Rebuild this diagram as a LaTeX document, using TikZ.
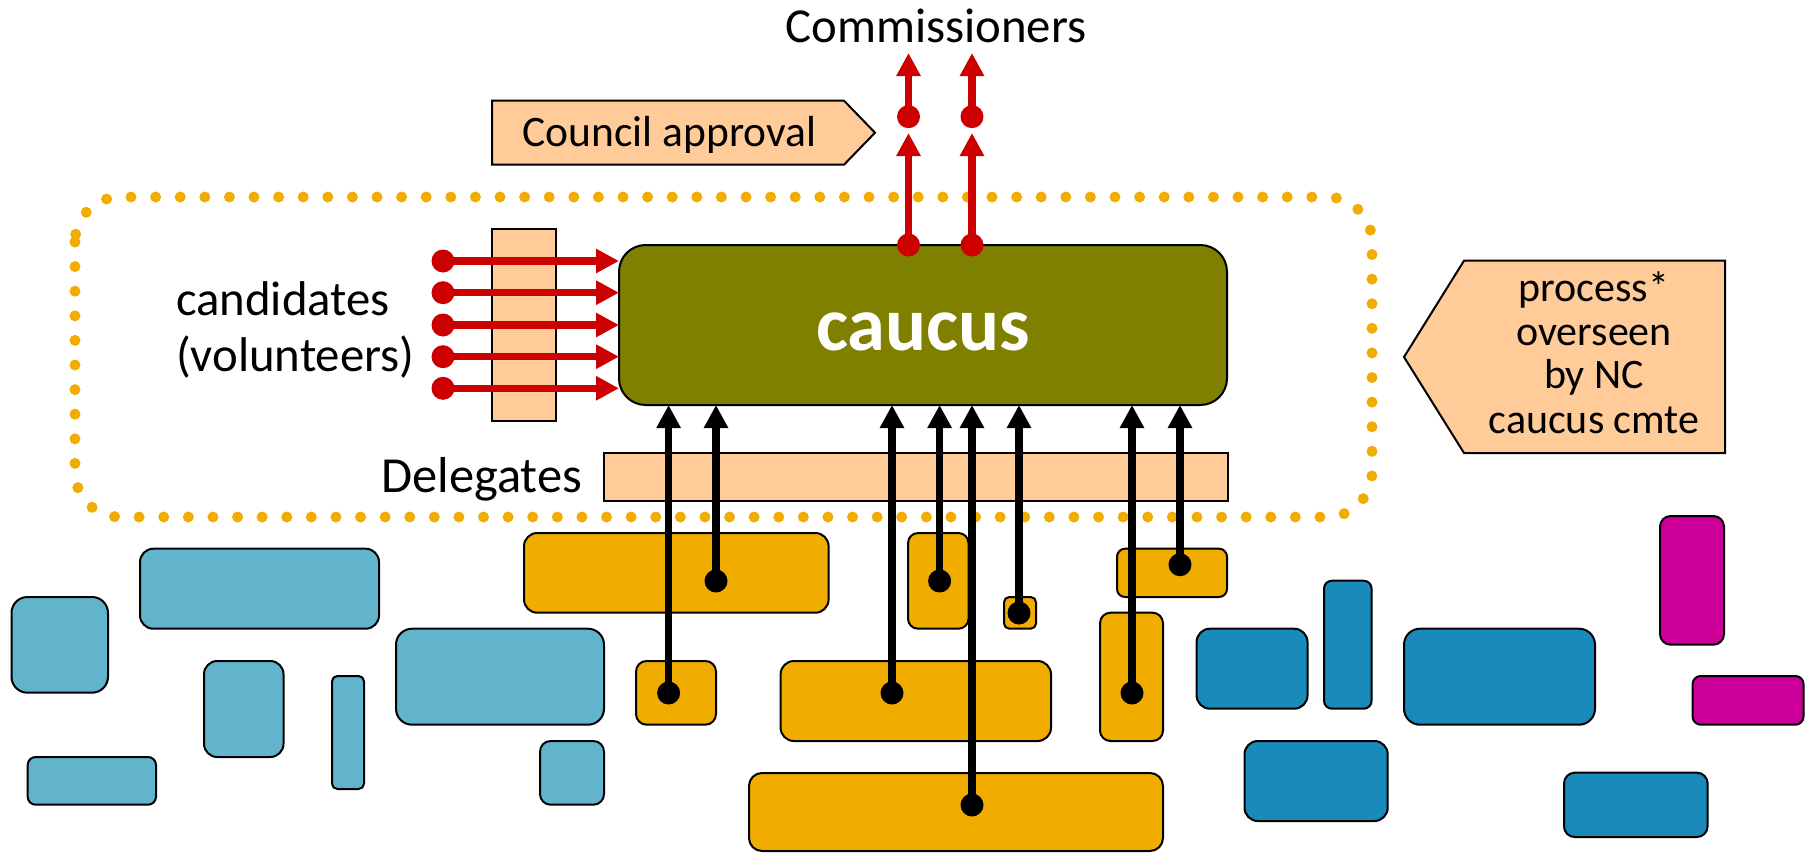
\documentclass[tikz,border=0pt]{standalone}
\usepackage{fontspec}
\setmainfont{Carlito}
\usetikzlibrary{arrows.meta}
\definecolor{peach}{HTML}{FFCC99}
\definecolor{gold}{HTML}{F0AD00}
\definecolor{olivec}{HTML}{808000}
\definecolor{lblue}{HTML}{62B4CC}
\definecolor{dblue}{HTML}{1A8ABA}
\definecolor{magc}{HTML}{CC0099}
\definecolor{redc}{HTML}{CC0000}
\newcommand\rbox[6]{%
 \pgfmathsetmacro\rbW{#5-#3}%
 \pgfmathsetmacro\rbH{#6-#4}%
 \pgfmathsetmacro\rbR{0.1667*min(\rbW,\rbH)}%
 \node[#2, anchor=north west, minimum width=\rbW pt, minimum height=\rbH pt, rounded corners=\rbR pt] (#1) at (#3,#4) {};}
\newcommand\prect[5]{%
 \pgfmathsetmacro\rbW{#4-#2}%
 \pgfmathsetmacro\rbH{#5-#3}%
 \node[peachbox, anchor=north west, minimum width=\rbW pt, minimum height=\rbH pt] (#1) at (#2,#3) {};}
\begin{document}
\begin{tikzpicture}[x=1pt,y=-1pt,
  box/.style={draw=black, line width=2pt, inner sep=0pt, outer sep=0pt},
  goldbox/.style={box, fill=gold},
  lbluebox/.style={box, fill=lblue},
  dbluebox/.style={box, fill=dblue},
  magbox/.style={box, fill=magc},
  olivebox/.style={box, fill=olivec},
  peachbox/.style={box, fill=peach},
  txt/.style={inner sep=0pt, outer sep=0pt},
  redarr/.style={draw=redc, line width=7.5pt, -{Triangle[length=23pt,width=23pt]}},
  blkarr/.style={draw=black, line width=7.5pt, -{Triangle[length=23pt,width=23pt]}},
  dotline/.style={draw=gold, line width=11pt, line cap=round, dash pattern=on 0pt off 24.6pt, rounded corners=45pt}
]
\useasboundingbox (0,0) rectangle (1810,854);

% dotted boundary
\draw[dotline] (75,197) rectangle (1372,517);

% light blue boxes
\rbox{B1}{lbluebox}{11.5}{597}{108}{692.7}
\rbox{B2}{lbluebox}{140}{548.7}{379}{628.7}
\rbox{B3}{lbluebox}{204}{661}{283.5}{757}
\rbox{B4}{lbluebox}{332}{676}{364}{789}
\rbox{B5}{lbluebox}{396}{628.7}{604}{724.7}
\rbox{B6}{lbluebox}{27.7}{757}{156}{804.7}
\rbox{B7}{lbluebox}{540}{741}{604}{804.7}
% dark blue boxes
\rbox{D1}{dbluebox}{1196.6}{628.7}{1307.5}{708.7}
\rbox{D2}{dbluebox}{1324}{580.7}{1371.6}{708.7}
\rbox{D3}{dbluebox}{1404}{628.7}{1595}{724.7}
\rbox{D4}{dbluebox}{1244.5}{741}{1387.7}{821}
\rbox{D5}{dbluebox}{1564}{772.7}{1707.6}{837}
% magenta boxes
\rbox{M1}{magbox}{1660}{516}{1724}{644.7}
\rbox{M2}{magbox}{1692.6}{676}{1803.5}{724.7}
% gold boxes
\rbox{G1}{goldbox}{524}{533}{828.6}{612.7}
\rbox{G2}{goldbox}{636}{661}{716}{724.7}
\rbox{G3}{goldbox}{780.6}{661}{1051}{741}
\rbox{G4}{goldbox}{749}{773}{1163}{851}
\rbox{G5}{goldbox}{908}{533}{968.5}{628.7}
\rbox{G6}{goldbox}{1004}{597}{1036}{628.7}
\rbox{G7}{goldbox}{1117}{548.7}{1227}{597}
\rbox{G8}{goldbox}{1100}{612.7}{1163}{741}

% peach rectangles
\prect{candbar}{492}{228.7}{556}{420.7}
\prect{delbar}{604}{453}{1228}{501}

% caucus
\rbox{caucus}{olivebox}{619}{245}{1227}{405}
\node[txt, anchor=base, text=white, font=\fontsize{76.5}{90}\selectfont\bfseries] (caucuslbl) at (923,350) {caucus};

% council approval
\draw[box, fill=peach] (492,100.7) -- (844,100.7) -- (875,132.7) -- (844,164.7) -- (492,164.7) -- cycle;
\node[txt, anchor=base west, font=\fontsize{43.5}{52}\selectfont] (council) at (522.6,146.7) {Council approval};

% process box
\draw[box, fill=peach] (1404,357) -- (1464,260.7) -- (1725,260.7) -- (1725,453) -- (1464,453) -- cycle;
\node[txt, anchor=base, font=\fontsize{42}{50}\selectfont] (p1) at (1594,301.7) {process*};
\node[txt, anchor=base, font=\fontsize{42}{50}\selectfont] (p2) at (1594,345) {overseen};
\node[txt, anchor=base, font=\fontsize{42}{50}\selectfont] (p3) at (1594,388.5) {by NC};
\node[txt, anchor=base, font=\fontsize{42}{50}\selectfont] (p4) at (1594,433) {caucus cmte};

% other texts
\node[txt, anchor=base, font=\fontsize{48.8}{58}\selectfont] (comm) at (936,42.7) {Commissioners};
\node[txt, anchor=base west, font=\fontsize{48.8}{58}\selectfont] (cand1) at (176,315) {candidates};
\node[txt, anchor=base west, font=\fontsize{48.8}{58}\selectfont] (cand2) at (176,371.7) {(volunteers)};
\node[txt, anchor=base east, font=\fontsize{50.5}{60}\selectfont] (deleg) at (582,492) {Delegates};

% red candidate arrows
\foreach \i/\y in {1/261,2/292.7,3/325,4/356.7,5/388.3}{
  \coordinate (r\i) at (443,\y);
  \fill[redc] (r\i) circle (11.5);
  \draw[redarr] (r\i) -- (r\i -| caucus.west);
}

% red upward arrows
\foreach \i/\x in {1/908.5,2/972}{
  \coordinate (u\i) at (\x,245);
  \coordinate (m\i) at (\x,116.7);
  \coordinate (top\i) at (\x,53);
  \draw[redarr] (u\i) -- ([yshift=-16.3pt]m\i);
  \draw[redarr] (m\i) -- (top\i);
  \fill[redc] (u\i) circle (11.5);
  \fill[redc] (m\i) circle (11.5);
}

% black delegate arrows
\foreach \i/\x/\y in {1/668.6/693,2/716/581,3/892/693,4/939.6/581,5/972/805,6/1019/613,7/1132/693,8/1180/564.7}{
  \coordinate (t\i) at (\x,\y);
  \fill[black] (t\i) circle (11.5);
  \draw[blkarr] (t\i) -- (t\i |- caucus.south);
}
\end{tikzpicture}
\end{document}
